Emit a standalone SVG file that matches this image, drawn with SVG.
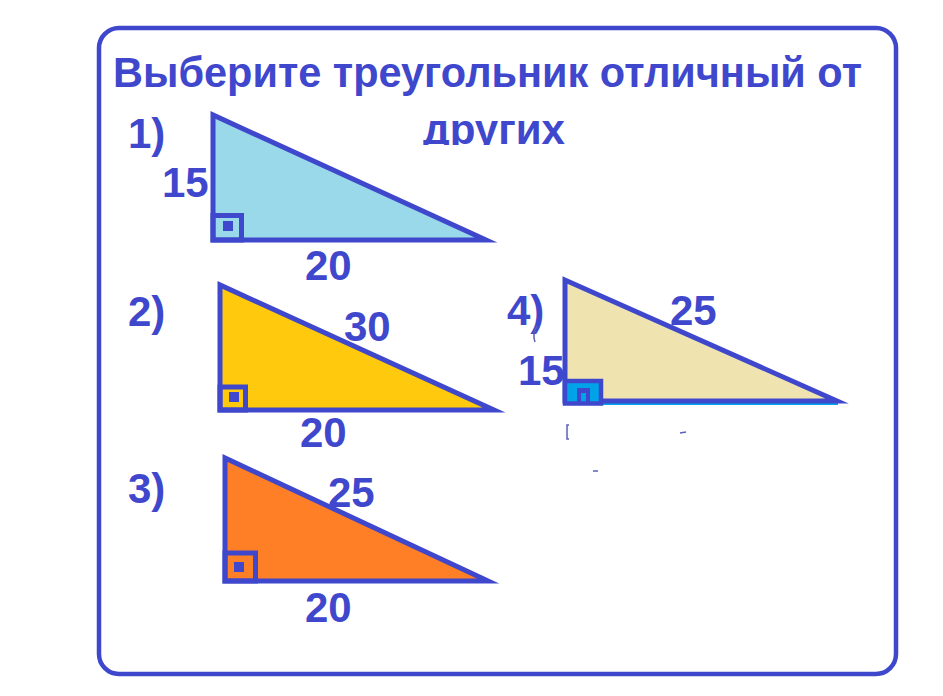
<svg xmlns="http://www.w3.org/2000/svg" width="943" height="696" viewBox="0 0 943 696">
  <defs>
    <style>
      .edge{stroke:#3F48CC;stroke-width:5;stroke-linejoin:miter;stroke-miterlimit:10}
      .sq{fill:none;stroke:#3F48CC;stroke-width:5}
      .dot{fill:#3F48CC}
      .lbl{font-family:"Liberation Sans",Arial,sans-serif;font-weight:bold;font-size:42px;fill:#3F48CC}
      .title{font-family:"Liberation Sans",Arial,sans-serif;font-weight:bold;font-size:43px;fill:#3F48CC}
      .art{stroke:#5a60b8;stroke-width:1.5;fill:none}
    </style>
    <clipPath id="cutDrugih">
      <rect x="400" y="100" width="200" height="45"/>
    </clipPath>
  </defs>
  <rect x="0" y="0" width="943" height="696" fill="#ffffff"/>
  <g id="frame">
    <rect x="99" y="28" width="797" height="646" rx="20" ry="20" fill="none" stroke="#3F48CC" stroke-width="4.5"/>
  </g>
  <g id="title">
    <text class="title" x="113" y="87" textLength="749" lengthAdjust="spacingAndGlyphs">Выберите треугольник отличный от</text>
    <text class="title" x="423" y="144" textLength="142" lengthAdjust="spacingAndGlyphs" clip-path="url(#cutDrugih)">других</text>
  </g>
  <g id="triangle1">
    <polygon class="edge" points="213,115 213,240 486,240" fill="#99D9EA"/>
    <rect class="sq" x="213" y="215.5" width="28.5" height="24.5"/>
    <rect class="dot" x="223" y="221" width="10" height="10"/>
    <text class="lbl" x="128" y="148">1)</text>
    <text class="lbl" x="162" y="197">15</text>
    <text class="lbl" x="305" y="280">20</text>
  </g>
  <g id="triangle2">
    <polygon class="edge" points="220,285 220,410 494,410" fill="#FFC90E"/>
    <rect class="sq" x="220" y="387" width="25.5" height="23"/>
    <rect class="dot" x="229" y="392" width="10" height="10"/>
    <text class="lbl" x="128" y="326">2)</text>
    <text class="lbl" x="344" y="341">30</text>
    <text class="lbl" x="300" y="447">20</text>
  </g>
  <g id="triangle3">
    <polygon class="edge" points="225,458 225,581 488,581" fill="#FF7F27"/>
    <rect class="sq" x="225" y="553" width="30.5" height="28"/>
    <rect class="dot" x="234" y="562" width="10" height="10"/>
    <text class="lbl" x="128" y="503">3)</text>
    <text class="lbl" x="328" y="507">25</text>
    <text class="lbl" x="305" y="622">20</text>
  </g>
  <g id="triangle4">
    <line x1="600" y1="404" x2="838" y2="404" stroke="#00A2E8" stroke-width="2"/>
    <polygon class="edge" points="565,280 565,401 837,401" fill="#EFE4B0"/>
    <rect x="565" y="381" width="36" height="22.5" fill="#00A2E8" stroke="#3F48CC" stroke-width="4.5"/>
    <path class="dot" d="M577,388 H590 V402 H586 V393 H581 V402 H577 Z"/>
    <text class="lbl" x="507" y="325">4)</text>
    <text class="lbl" x="518" y="385">15</text>
    <text class="lbl" x="670" y="325">25</text>
  </g>
  <g id="artifacts">
    <path class="art" d="M537,326 Q532,334 535,342"/>
    <path class="art" d="M569,425 H567 V439 H569"/>
    <line class="art" x1="680" y1="433" x2="686" y2="432"/>
    <line class="art" x1="593" y1="471" x2="598" y2="471"/>
  </g>
</svg>
